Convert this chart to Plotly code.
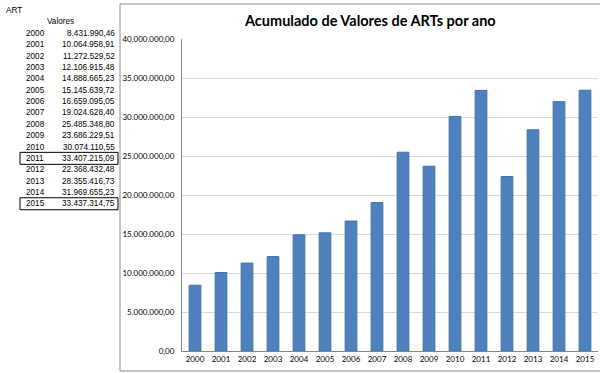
import plotly.graph_objects as go

years = ["2000", "2001", "2002", "2003", "2004", "2005", "2006", "2007",
         "2008", "2009", "2010", "2011", "2012", "2013", "2014", "2015"]
values = [8431990.46, 10064958.91, 11272529.52, 12106915.48, 14888665.23,
          15145639.72, 16659095.05, 19024628.40, 25485348.80, 23686229.51,
          30074110.55, 33407215.09, 22368432.48, 28355416.73, 31969655.23,
          33437314.75]
value_labels = ["8.431.990,46", "10.064.958,91", "11.272.529,52", "12.106.915,48",
                "14.888.665,23", "15.145.639,72", "16.659.095,05", "19.024.628,40",
                "25.485.348,80", "23.686.229,51", "30.074.110,55", "33.407.215,09",
                "22.368.432,48", "28.355.416,73", "31.969.655,23", "33.437.314,75"]
boxed_years = ["2011", "2015"]
title_text = "Acumulado de Valores de ARTs por ano"

W, H = 600, 373
PL, PR, PT, PB = 182, 598, 39, 351

def px(x):
    return (x - PL) / (PR - PL)

def py(y):
    return (PB - y) / (PB - PT)

fig = go.Figure()
fig.add_trace(go.Bar(
    x=years, y=values,
    marker=dict(color="#4F81BD", line=dict(color="#3F6FA9", width=1)),
    hoverinfo="x+y",
))

annotations = []
shapes = []

# Left table (spreadsheet cells)
tfont = dict(family="Liberation Sans, Arial, sans-serif", size=8.2, color="#000000")
annotations.append(dict(text="ART", x=px(4), y=py(10), xref="paper", yref="paper",
                        xanchor="left", yanchor="middle", showarrow=False, font=tfont))
annotations.append(dict(text="Valores", x=px(60), y=py(22), xref="paper", yref="paper",
                        xanchor="center", yanchor="middle", showarrow=False, font=tfont))
row0, rowh = 33.5, 11.35
for i, (yr, lab) in enumerate(zip(years, value_labels)):
    yc = row0 + i * rowh
    annotations.append(dict(text=yr, x=px(24), y=py(yc), xref="paper", yref="paper",
                            xanchor="left", yanchor="middle", showarrow=False, font=tfont))
    annotations.append(dict(text=lab, x=px(117), y=py(yc), xref="paper", yref="paper",
                            xanchor="right", yanchor="middle", showarrow=False, font=tfont))
    if yr in boxed_years:
        shapes.append(dict(type="rect", xref="paper", yref="paper",
                           x0=px(20), x1=px(118), y0=py(yc + 6), y1=py(yc - 6),
                           line=dict(color="#000000", width=1)))

# Chart frame
shapes.append(dict(type="rect", xref="paper", yref="paper",
                   x0=px(120), x1=px(603), y0=py(371), y1=py(4),
                   line=dict(color="#8C8C8C", width=1), layer="below"))

# Title
annotations.append(dict(text="<b>" + title_text + "</b>", x=px(370), y=py(20),
                        xref="paper", yref="paper", xanchor="center", yanchor="middle",
                        showarrow=False,
                        font=dict(family="Lato, Calibri, sans-serif", size=14.5, color="#000000")))

fig.update_layout(
    width=W, height=H,
    margin=dict(l=PL, r=W - PR, t=PT, b=H - PB, pad=0),
    paper_bgcolor="#FFFFFF", plot_bgcolor="#FFFFFF",
    separators=",.",
    bargap=0.55,
    showlegend=False,
    font=dict(family="Lato, Calibri, sans-serif", size=8, color="#000000"),
    annotations=annotations,
    shapes=shapes,
    xaxis=dict(showgrid=False, showline=True, linecolor="#868686", linewidth=1,
               ticks="", tickfont=dict(size=8), fixedrange=True),
    yaxis=dict(range=[0, 40000000], dtick=5000000, tickformat=",.2f",
               showgrid=True, gridcolor="#D9D9D9", gridwidth=1,
               showline=True, linecolor="#868686", linewidth=1,
               zeroline=False, ticks="", ticklabelstandoff=5,
               tickfont=dict(size=8), fixedrange=True),
)

fig.write_html("out.html",
               config={"displayModeBar": False},
               post_script="document.body.style.margin='0';document.body.style.padding='0';")
